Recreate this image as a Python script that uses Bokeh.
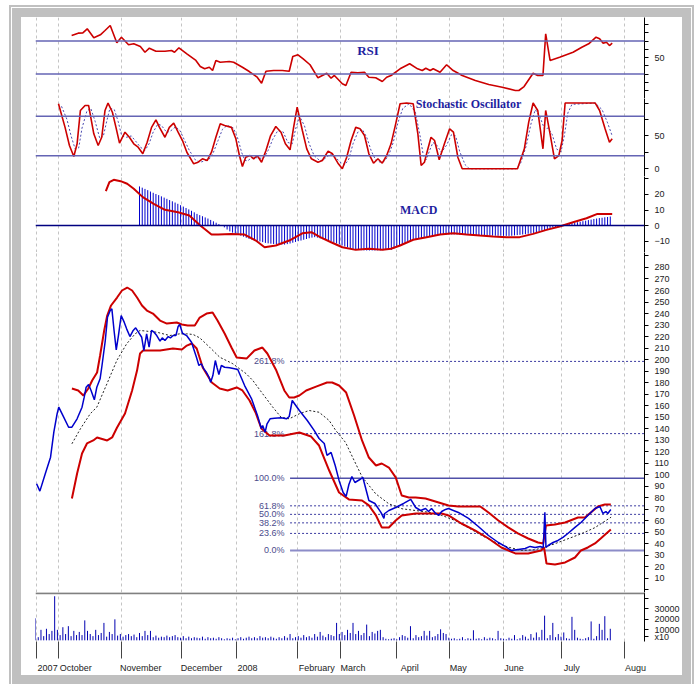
from bokeh.plotting import figure
from bokeh.layouts import column, row
from bokeh.models import FixedTicker, Range1d, Label, Span, Spacer
from bokeh.embed import file_html
from bokeh.resources import INLINE
from bokeh.core.properties import value

# ---------------- data (x = trading-day index) ----------------
month_ticks = [0.5, 8.4, 31.3, 53.5, 73.5, 95.6, 111.3, 132.0, 151.3, 170.9, 192.0, 215.3]
month_labels = ["2007", "October", "November", "December", "2008", "February",
                "March", "April", "May", "June", "July", "Augu"]

rsi_x = [13.2, 15.6, 17.3, 18.9, 21.3, 23.7, 25.4, 27.3, 29.7, 31.4, 34.0, 35.9, 38.3, 40.0, 41.6,
         44.0, 47.3, 49.7, 50.8, 52.4, 55.3, 58.6, 60.2, 61.8, 63.5, 64.7, 65.9, 67.5, 70.8, 72.4,
         75.6, 78.1, 81.0, 82.6, 84.2, 87.0, 90.2, 92.7, 94.0, 95.9, 97.8, 100.3, 103.2, 104.8, 106.4,
         108.0, 109.2, 112.1, 113.4, 115.3, 117.8, 120.2, 121.8, 124.3, 126.7, 128.3, 129.9, 133.2, 136.7, 139.6,
         141.3, 142.6, 144.2, 145.3, 147.8, 150.2, 152.6, 155.9, 160.7, 165.6, 170.5, 175.3, 176.6, 178.5, 181.8,
         183.5, 185.4, 186.4, 187.0, 188.0, 191.5, 196.4, 199.6, 202.1, 204.8, 206.1, 207.4, 208.6, 209.7, 210.7]
rsi_v = [76.7, 79.5, 79.9, 84.8, 73.9, 77.5, 82.7, 88.8, 67.8, 74.6, 65.4, 66.6, 63.3, 56.4, 61.3,
         57.6, 57.6, 58.5, 56.4, 61.8, 54.5, 46.4, 39.1, 36.3, 38.2, 34.2, 46.4, 44.3, 45.2, 44.3,
         38.2, 33.0, 26.1, 18.8, 33.4, 34.2, 34.2, 33.4, 51.2, 53.3, 48.4, 41.2, 25.4, 28.2, 31.0,
         24.9, 28.2, 18.1, 16.1, 32.2, 31.5, 32.2, 26.1, 25.4, 20.9, 26.1, 28.2, 36.3, 42.4, 36.3,
         34.2, 37.0, 34.2, 36.3, 32.2, 41.2, 34.2, 28.2, 22.1, 17.3, 14.0, 10.0, 10.0, 14.8, 31.0,
         28.2, 28.2, 78.7, 66.6, 46.4, 50.4, 56.4, 62.5, 66.6, 74.6, 72.7, 67.3, 68.5, 64.5, 67.3]

stk_x = [8.4, 10.8, 12.4, 14.0, 15.2, 16.4, 18.1, 19.4, 21.3, 22.9, 24.2, 25.4, 26.5, 28.1, 29.4,
         30.7, 32.7, 34.3, 35.9, 37.5, 39.2, 40.8, 42.4, 44.0, 45.3, 47.3, 48.9, 50.5, 52.1, 53.7,
         55.3, 57.8, 59.4, 61.0, 62.7, 64.3, 65.9, 67.5, 69.1, 71.6, 73.2, 74.5, 75.6, 76.8, 78.4,
         79.7, 81.0, 82.6, 84.2, 85.9, 87.8, 89.7, 91.3, 93.0, 94.3, 95.6, 97.5, 99.1, 100.8, 103.2,
         104.8, 106.9, 108.5, 110.5, 112.1, 113.7, 115.3, 117.0, 118.6, 120.2, 121.8, 123.5, 125.1, 126.7, 128.3,
         129.9, 131.6, 133.2, 135.6, 138.0, 139.7, 140.9, 142.1, 143.2, 144.5, 145.8, 147.5, 149.4, 151.3, 152.7,
         154.3, 155.9, 176.1, 178.6, 180.2, 181.8, 183.5, 185.4, 186.4, 188.0, 189.6, 191.2, 192.4, 193.5, 204.5,
         206.1, 208.1, 209.7, 210.7]
stk_v = [98.9, 63.0, 35.4, 18.7, 38.0, 88.7, 96.3, 96.3, 53.2, 35.4, 48.0, 88.7, 100.0, 86.0, 63.0,
         39.0, 55.7, 48.0, 38.0, 32.9, 22.8, 40.5, 63.0, 74.5, 63.0, 48.0, 63.0, 69.4, 55.7, 43.0,
         25.2, 7.6, 10.0, 15.2, 12.6, 25.2, 48.0, 68.4, 65.9, 63.0, 45.6, 20.2, 3.5, 17.6, 20.2,
         15.2, 20.2, 10.0, 27.8, 50.6, 64.3, 55.7, 38.0, 28.9, 63.0, 93.7, 58.3, 30.4, 15.2, 10.0,
         12.6, 26.8, 22.8, 8.5, 0.0, 17.6, 43.0, 63.0, 60.8, 50.6, 22.8, 8.5, 15.2, 8.5, 20.2,
         38.0, 68.4, 98.9, 100.0, 98.9, 53.2, 5.0, 10.0, 27.8, 48.0, 43.0, 13.7, 38.0, 60.8, 55.7,
         17.6, 0.0, 0.0, 30.4, 70.9, 100.0, 88.7, 30.4, 88.7, 53.2, 15.2, 20.2, 43.0, 100.0, 100.0,
         88.7, 60.8, 40.5, 45.6]

std_x = [9.5, 11.5, 13.0, 14.5, 15.8, 17.0, 18.8, 20.2, 21.8, 23.5, 24.8, 26.0, 27.2, 28.8, 30.2,
         31.5, 33.3, 35.0, 36.6, 38.3, 40.0, 41.5, 43.0, 44.7, 46.0, 48.0, 49.5, 51.2, 52.8, 54.5,
         56.2, 58.5, 60.2, 61.8, 63.5, 65.0, 66.7, 68.3, 70.0, 72.3, 74.0, 75.3, 76.5, 77.5, 79.0,
         80.5, 82.0, 83.5, 85.0, 86.7, 88.5, 90.5, 92.2, 93.8, 95.0, 96.5, 98.3, 100.0, 101.8, 104.0,
         105.5, 107.7, 109.3, 111.3, 113.0, 114.5, 116.0, 117.8, 119.4, 121.0, 122.6, 124.3, 126.0, 127.5, 129.0,
         130.7, 132.4, 134.2, 136.5, 138.8, 140.5, 141.7, 142.8, 144.0, 145.2, 146.6, 148.3, 150.2, 152.0, 153.5,
         155.0, 157.0, 158.5, 175.5, 177.2, 179.3, 181.0, 182.6, 184.4, 186.0, 187.2, 188.8, 190.4, 192.0, 193.2,
         194.5, 196.0, 204.5, 207.0, 209.0, 210.7]
std_v = [95, 75, 50, 30, 32, 62, 88, 92, 72, 46, 50, 72, 92, 90, 72,
         50, 48, 50, 42, 33, 28, 38, 56, 68, 66, 55, 58, 64, 58, 43,
         28, 13, 10, 12, 15, 25, 43, 60, 66, 62, 45, 25, 13, 12, 17,
         17, 16, 17, 28, 45, 58, 56, 40, 38, 60, 80, 65, 38, 20, 12,
         15, 22, 19, 10, 6, 15, 38, 56, 60, 48, 28, 13, 10, 12, 20,
         40, 70, 92, 99, 86, 50, 20, 14, 28, 40, 36, 25, 36, 52, 50,
         26, 6, 0, 0, 8, 35, 68, 90, 78, 60, 62, 52, 30, 26, 50,
         85, 98, 100, 90, 70, 50]

macd_x = [25.7, 27.0, 28.6, 31.1, 33.5, 35.9, 39.2, 43.2, 47.3, 52.1, 56.2, 60.2, 64.3, 66.7, 71.6,
          76.4, 80.5, 83.7, 87.8, 92.7, 97.5, 100.8, 104.0, 108.0, 112.1, 117.0, 121.8, 126.7, 129.9, 133.2,
          138.0, 142.9, 147.8, 152.6, 157.5, 162.4, 167.2, 172.1, 176.9, 181.8, 186.7, 191.5, 196.4, 201.3, 205.3,
          210.7]
macd_v = [22.1, 27.9, 29.5, 28.6, 26.9, 23.7, 18.3, 14.0, 10.1, 8.6, 6.5, 0.0, -5.8, -5.8, -5.4,
          -5.8, -9.7, -14.0, -12.9, -9.7, -5.0, -4.3, -7.5, -10.8, -14.0, -15.7, -15.0, -15.7, -15.0, -12.9,
          -9.2, -7.5, -5.8, -5.0, -5.8, -6.5, -7.1, -7.5, -7.5, -5.4, -2.8, -0.6, 2.1, 4.7, 7.5,
          7.5]

hist_first_day = 38
macd_hist = [25.2, 24.4, 23.6, 22.8, 21.9, 21.1, 20.3, 19.6, 18.8, 18.0,
             17.2, 16.4, 15.6, 14.8, 14.0, 13.1, 12.2, 11.3, 10.4, 9.5,
             8.5, 7.5, 6.7, 6.0, 5.2, 4.5, 3.6, 2.7, 1.8, 0.9,
             0.2, -1.2, -2.6, -3.8, -4.6, -5.2, -5.8, -6.5, -7.2, -7.9,
             -8.6, -9.0, -9.5, -9.9, -10.3, -10.7, -11.2, -11.5, -11.7, -11.9,
             -12.0, -12.2, -12.3, -12.3, -12.0, -11.6, -11.1, -10.6, -10.1, -9.7,
             -9.2, -8.7, -8.2, -7.8, -7.5, -7.8, -8.3, -8.8, -9.3, -9.7,
             -10.3, -11.0, -11.6, -12.2, -12.9, -13.5, -14.1, -14.7, -15.2, -15.7,
             -15.8, -15.9, -16.0, -16.1, -16.1, -16.1, -16.1, -16.0, -16.0, -15.9,
             -15.8, -15.8, -15.7, -14.8, -13.8, -12.9, -12.0, -11.2, -10.4, -9.7,
             -9.2, -8.8, -8.4, -8.1, -7.8, -7.5, -7.2, -6.9, -6.6, -6.3,
             -6.0, -5.8, -5.8, -5.7, -5.7, -5.7, -5.8, -5.8, -5.8, -5.8,
             -5.9, -6.0, -6.1, -6.2, -6.3, -6.4, -6.4, -6.5, -6.5, -6.5,
             -6.6, -6.6, -6.6, -6.7, -6.7, -6.7, -6.6, -6.4, -6.2, -6.0,
             -5.8, -5.6, -5.3, -5.1, -4.8, -4.3, -3.8, -3.3, -2.9, -2.4,
             -1.9, -1.4, -0.9, -0.4, 0.1, 0.5, 0.9, 1.2, 1.5, 1.8,
             2.1, 2.4, 2.8, 3.1, 3.5, 3.8, 4.2, 4.5, 4.8, 5.0,
             5.3, 5.5, 5.8]

close_x = [0.4, 1.6, 3.6, 5.5, 6.7, 7.9, 8.5, 10.3, 12.1, 13.3, 15.2, 17.0, 17.8, 18.5, 19.4, 20.3,
           21.5, 22.4, 23.6, 24.3, 25.5, 26.3, 27.3, 27.9, 28.7, 29.5, 30.3, 31.3, 32.4, 33.3, 34.5,
           35.7, 36.6, 37.6, 38.8, 39.6, 40.6, 41.5, 42.4, 43.3, 44.3, 45.5, 46.3, 47.3, 48.5, 49.3,
           50.3, 51.3, 52.1, 52.7, 53.7, 55.2, 57.0, 58.8, 59.7, 60.6, 61.5, 62.4, 63.4, 64.0, 64.8,
           65.7, 66.3, 67.0, 67.9, 69.1, 70.9, 72.7, 73.9, 76.4, 78.9, 81.1, 82.5, 83.0, 83.9, 84.6,
           85.7, 87.3, 89.7, 91.7, 92.7, 93.8, 96.4, 99.3, 101.8, 103.6, 105.5, 106.5, 108.0, 109.5,
           110.9, 112.4, 113.5, 114.5, 115.6, 116.7, 118.5, 119.6, 121.8, 124.0, 126.2, 127.3, 127.6,
           129.1, 131.6, 134.5, 137.1, 138.9, 140.7, 142.5, 143.6, 144.7, 146.2, 147.3, 148.4, 149.8,
           150.9, 154.5, 158.2, 161.8, 165.5, 169.1, 171.6, 173.8, 176.4, 178.9, 180.7, 182.5, 184.4,
           185.5, 186.1, 186.5, 187.3, 189.1, 190.9, 192.7, 194.5, 197.1, 199.3, 201.8, 204.4, 206.2,
           207.3, 208.4, 209.1, 210.2]
close_v = [92.2, 85.8, 101.1, 115.3, 137.0, 153.0, 158.7, 150.0, 141.3, 141.3, 148.6, 158.7, 167.4, 176.0, 178.4, 173.2,
           165.1, 176.0, 183.3, 194.9, 216.6, 236.8, 242.6, 244.1, 225.3, 208.5, 220.9, 238.3, 232.5, 226.7, 220.0,
           225.3, 227.6, 223.8, 219.4, 207.9, 222.4, 210.8, 225.3, 223.8, 220.9, 216.0, 218.9, 216.6, 220.0, 218.9,
           220.9, 220.9, 228.7, 230.5, 222.9, 220.9, 215.1, 202.1, 194.9, 196.4, 192.0, 189.1, 184.7, 180.4, 186.2,
           199.2, 193.4, 187.1, 194.9, 193.4, 192.9, 192.0, 191.4, 177.5, 166.2, 151.5, 140.2, 142.8, 137.0, 144.3,
           148.6, 149.1, 149.5, 148.6, 150.6, 164.5, 155.8, 147.1, 138.5, 131.5, 127.2, 116.8, 119.4, 108.1,
           95.1, 84.6, 81.2, 91.6, 98.5, 93.3, 95.9, 97.7, 77.7, 75.1, 67.3, 62.1, 66.4,
           69.0, 71.6, 75.1, 78.6, 71.6, 69.0, 70.7, 68.1, 70.7, 66.4, 64.7, 68.1, 69.9,
           70.7, 67.3, 62.1, 55.1, 47.3, 41.2, 37.8, 34.3, 35.2, 36.0, 37.8, 36.9, 37.8,
           36.9, 67.5, 36.9, 38.6, 41.2, 43.0, 45.6, 49.0, 54.3, 58.6, 64.7, 70.7, 72.5,
           66.4, 68.1, 66.4, 69.9]

ub_x = [13.3, 15.6, 17.5, 19.3, 20.7, 22.5, 23.6, 25.1, 26.2, 27.6, 29.8, 31.6, 33.5, 35.3, 37.1, 38.9,
        40.7, 42.9, 45.5, 48.0, 51.6, 53.5, 55.6, 58.2, 60.0, 62.5, 64.7, 66.5, 69.1, 71.6, 73.5, 77.1,
        80.0, 82.9, 84.7, 88.0, 90.9, 92.7, 94.5, 96.4, 98.9, 102.5, 106.5, 108.4, 110.9, 113.5, 116.4,
        119.3, 121.8, 124.4, 126.5, 129.1, 131.6, 133.8, 136.4, 138.9, 142.5, 147.3, 150.9, 154.5, 159.3,
        162.5, 165.5, 169.1, 172.7, 176.4, 180.0, 183.6, 185.5, 186.5, 189.8, 193.5, 198.2, 200.7, 202.9,
        205.5, 208.0, 210.2]
ub_v = [174.9, 173.2, 168.8, 174.9, 181.9, 188.8, 203.6, 225.3, 238.3, 247.0, 253.9, 260.0, 262.6, 260.0, 253.9, 247.0,
        242.6, 240.0, 233.9, 231.3, 232.2, 230.5, 229.6, 229.6, 236.5, 240.0, 240.9, 233.9, 222.7, 210.5, 201.8, 200.9,
        207.9, 210.5, 205.3, 190.5, 173.2, 167.1, 167.1, 168.8, 173.2, 176.6, 180.1, 180.1, 177.5, 171.4, 151.5,
        129.8, 115.0, 108.1, 109.8, 106.3, 97.7, 82.0, 80.3, 80.3, 79.4, 76.0, 73.4, 72.5, 72.5,
        72.5, 67.3, 60.3, 54.3, 49.0, 44.7, 41.2, 40.4, 56.0, 56.9, 58.6, 62.9, 62.9, 67.3,
        72.5, 74.2, 74.2]

lb_x = [13.3, 15.2, 17.0, 18.8, 21.1, 22.5, 26.2, 28.0, 29.8, 32.7, 35.3, 37.1, 38.2, 39.3, 41.8, 45.5,
        50.2, 53.5, 55.3, 57.1, 58.9, 61.1, 64.4, 67.3, 70.2, 73.5, 75.6, 78.2, 80.4, 82.5, 85.5, 90.9,
        96.4, 100.7, 103.6, 107.3, 110.9, 114.5, 119.3, 121.8, 124.4, 126.5, 129.1, 131.6, 133.8, 138.9,
        143.6, 148.4, 150.9, 155.6, 160.7, 165.5, 170.2, 175.3, 180.0, 184.7, 185.8, 186.7, 189.8, 193.5,
        197.1, 199.3, 201.8, 204.4, 206.5, 210.2]
lb_v = [79.4, 101.1, 118.5, 127.2, 129.8, 132.4, 129.8, 132.4, 141.1, 153.2, 173.2, 190.5, 205.3, 207.9, 207.9, 207.9,
        209.6, 208.8, 212.2, 214.0, 209.6, 193.1, 180.1, 174.9, 173.2, 175.8, 173.2, 164.5, 154.1, 140.2, 134.1, 134.1,
        136.7, 133.2, 125.4, 103.7, 84.6, 78.6, 77.7, 73.4, 64.7, 54.3, 54.3, 60.3, 64.7, 66.4,
        66.4, 66.4, 64.7, 57.7, 51.6, 44.7, 36.9, 31.7, 31.7, 34.3, 36.9, 23.0, 22.1, 23.9,
        28.2, 34.3, 36.9, 40.4, 44.7, 52.5]

ma_x = [13.3, 16.4, 20.0, 22.4, 26.1, 29.7, 33.3, 36.4, 38.2, 40.6, 44.3, 49.1, 52.7, 55.2, 57.6, 60.0,
        63.6, 67.3, 72.1, 77.0, 79.4, 83.0, 86.7, 89.7, 92.7, 96.4, 100.0, 103.6, 107.3, 109.7, 113.3,
        116.5, 119.4, 124.3, 129.1, 133.9, 138.8, 143.6, 148.5, 153.3, 158.2, 163.0, 167.9, 172.7, 177.6,
        182.4, 186.1, 189.7, 194.5, 199.4, 204.3, 210.3]
ma_v = [126.9, 139.9, 153.0, 158.7, 179.0, 199.2, 213.7, 222.4, 225.3, 224.7, 223.8, 220.9, 222.4, 222.4, 221.8, 218.9,
        210.8, 202.1, 196.4, 187.7, 181.9, 170.3, 158.7, 150.0, 148.6, 153.0, 155.8, 154.3, 147.1, 138.5, 128.0,
        112.0, 97.9, 83.5, 74.8, 70.5, 69.0, 67.5, 64.7, 60.3, 54.0, 47.3, 41.5, 37.2, 34.3,
        34.9, 37.2, 40.1, 44.4, 48.8, 54.0, 63.2]

fib_low = 34.3
fib_high = 97.0
fib_ratios = [0.0, 0.236, 0.382, 0.5, 0.618, 1.0, 1.618, 2.618]
fib_labels = ["0.0%", "23.6%", "38.2%", "50.0%", "61.8%", "100.0%", "161.8%", "261.8%"]
fib_label_day = 91.0
fib_line_day = 93.0

volume = [21000, 3000, 10000, 4000, 11000, 6000, 9000, 42000, 10000, 5000,
          12500, 6000, 13500, 4000, 9000, 5000, 8000, 5000, 19000, 9000,
          6000, 4000, 10000, 5000, 7000, 16600, 3500, 8000, 6000, 20000,
          4500, 6000, 3500, 5000, 6000, 4000, 5500, 3000, 7000, 4000,
          9000, 5000, 9000, 3000, 4500, 2500, 3500, 3000, 4500, 3000,
          4000, 5000, 3000, 2500, 4000, 2000, 3500, 2000, 3000, 2500,
          2000, 3500, 1500, 3000, 2000, 2500, 1500, 3000, 2000, 1000,
          2000, 1500, 2500, 1000, 2000, 3000, 1500, 2500, 3500, 2000,
          3000, 2000, 4000, 2500, 3000, 2000, 3500, 2500, 1500, 3000,
          2000, 4000, 2500, 6000, 2000, 3000, 4000, 2500, 5000, 3000,
          4000, 2500, 6000, 3500, 8000, 4500, 3000, 6000, 5000, 4000,
          16600, 6000, 8000, 5000, 10000, 7000, 16600, 6000, 9000, 5000,
          7000, 15000, 4000, 8000, 6500, 9000, 10000, 3000, 1500, 1000,
          1500, 2000, 1000, 3000, 5000, 4000, 2500, 13500, 2000, 5000,
          3000, 4000, 9000, 4500, 9000, 3000, 4000, 6000, 10500, 7000,
          6000, 2500, 1500, 2000, 1000, 1500, 3000, 1000, 2000, 1500,
          9600, 1500, 2000, 1000, 3000, 1500, 2500, 2000, 1000, 9000,
          2000, 1500, 1000, 2500, 1500, 5000, 1000, 2000, 5000, 3500,
          1500, 6000, 2500, 7500, 3000, 10000, 23500, 2000, 5000, 16600,
          3000, 6000, 3500, 7500, 2000, 1500, 22400, 10000, 2500, 1500,
          1000, 2000, 3000, 18000, 1500, 4000, 15700, 10000, 23000, 2000,
          11000]
vol_ticks = [10000, 20000, 30000]
vol_unit_tick = 3500
vol_unit_label = "x10"

# axis ranges
x_end = 222.5
rsi_range = (0.3, 98.5)
stoch_range = (-11.7, 106.9)
macd_range = (-17.4, 31.6)
price_range = (-2.2, 293.0)
vol_range = (-1111, 45556)

# ---------------- styling ----------------
FONT = "Liberation Sans"
TITLE_FONT = "Liberation Serif"
RED = "#cc0000"
BLUE = "#0000cc"
LEVEL = "#6464b4"
TITLE_C = "#1f1fa0"
PX_PER_DAY = 612 / x_end
CHAR_W = 4.4  # approx. px per character of the month labels

xr = Range1d(0, x_end)


def panel(h, yrange, major, minor, bottom=False):
    p = figure(width=661, height=h, x_range=xr, y_range=Range1d(*yrange),
               output_backend="svg", toolbar_location=None,
               x_axis_location="below" if bottom else None, y_axis_location="right",
               min_border_left=14, min_border_right=35, min_border_top=0,
               min_border_bottom=20 if bottom else 0)
    p.outline_line_color = None
    p.background_fill_color = "white"
    p.border_fill_color = "white"
    p.ygrid.visible = False
    p.xgrid.ticker = FixedTicker(ticks=month_ticks)
    p.xgrid.grid_line_color = "#c4c4c4"
    p.xgrid.grid_line_dash = "3 3"
    p.xgrid.grid_line_width = 1
    ya = p.yaxis[0]
    ya.ticker = FixedTicker(ticks=major, minor_ticks=minor)
    ya.axis_line_color = "black"
    ya.major_tick_line_color = "black"
    ya.minor_tick_line_color = "black"
    ya.major_tick_out = 4
    ya.major_tick_in = 0
    ya.minor_tick_out = 4
    ya.minor_tick_in = 0
    ya.major_label_standoff = 6
    ya.major_label_text_font = FONT
    ya.major_label_text_font_size = "9px"
    ya.major_label_text_color = "#222222"
    return p


def title(p, x, y, text, size="12px"):
    p.add_layout(Label(x=x, y=y, text=text, text_align="center", text_baseline="middle",
                       text_font=TITLE_FONT, text_font_style="bold", text_font_size=size,
                       text_color=TITLE_C))


# RSI
p_rsi = panel(81, rsi_range, [50], [10, 20, 30, 40, 60, 70, 80, 90])
for lv in (70, 30):
    p_rsi.add_layout(Span(location=lv, dimension="width", line_color=LEVEL, line_width=1.5))
p_rsi.line(rsi_x, rsi_v, line_color=RED, line_width=1.6)
title(p_rsi, 121.5, 58.5, "RSI", "13px")

# Stochastic
p_sto = panel(78, stoch_range, [0, 50], [25, 75, 100])
for lv in (80, 20):
    p_sto.add_layout(Span(location=lv, dimension="width", line_color=LEVEL, line_width=1.5))
p_sto.line(std_x, std_v, line_color="#4a4ab0", line_width=1, line_dash="2 2")
p_sto.line(stk_x, stk_v, line_color=RED, line_width=1.6)
title(p_sto, 158.2, 97.8, "Stochastic Oscillator")

# MACD
p_macd = panel(76, macd_range, [-10, 0, 10, 20], [30])
hist_x = list(range(hist_first_day, hist_first_day + len(macd_hist)))
p_macd.segment(x0=hist_x, y0=0, x1=hist_x, y1=macd_hist, line_color=BLUE, line_width=1)
p_macd.add_layout(Span(location=0, dimension="width", line_color="#000080", line_width=1.5))
p_macd.line(macd_x, macd_v, line_color=RED, line_width=2)
title(p_macd, 140.0, 9.7, "MACD")

# Price
p_px = panel(340, price_range, list(range(10, 290, 10)), [0, 290])
fib_levels = [fib_low + r * (fib_high - fib_low) for r in fib_ratios]
dotted = [lv for lv, r in zip(fib_levels, fib_ratios) if r not in (0.0, 1.0)]
p_px.ray(x=[fib_line_day] * len(dotted), y=dotted, length=0, angle=0,
         line_color="#3a3aa0", line_width=1, line_dash="2 2")
p_px.ray(x=[fib_line_day], y=[fib_levels[5]], length=0, angle=0, line_color="#5050a8", line_width=1.5)
p_px.ray(x=[fib_line_day], y=[fib_levels[0]], length=0, angle=0, line_color="#8c8cc8", line_width=2)
p_px.text(x=[fib_label_day] * len(fib_levels), y=fib_levels, text=fib_labels,
          text_align="right", text_baseline="middle", text_font=value(FONT),
          text_font_size="9px", text_color="#4b4b8b")
p_px.line(ma_x, ma_v, line_color="#222222", line_width=1, line_dash="2 2")
p_px.line(ub_x, ub_v, line_color=RED, line_width=2)
p_px.line(lb_x, lb_v, line_color=RED, line_width=2)
p_px.line(close_x, close_v, line_color=BLUE, line_width=1.5)

# Volume
p_vol = panel(83, vol_range, [vol_unit_tick] + vol_ticks, [40000], bottom=True)
p_vol.yaxis[0].major_label_overrides = {vol_unit_tick: vol_unit_label}
vol_x = list(range(len(volume)))
p_vol.segment(x0=vol_x, y0=0, x1=vol_x, y1=volume, line_color="#0000b0", line_width=1)
p_vol.add_layout(Span(location=44800, dimension="width", line_color="#808080", line_width=2))

# month axis: tick marks at month starts (minor ticks), names just to the right (major ticks)
label_pos = [round(t + (len(lab) * CHAR_W / 2 + 2) / PX_PER_DAY, 2)
             for t, lab in zip(month_ticks, month_labels)]
xa = p_vol.xaxis[0]
xa.ticker = FixedTicker(ticks=label_pos, minor_ticks=month_ticks)
xa.major_label_overrides = {t: lab for t, lab in zip(label_pos, month_labels)}
xa.axis_line_color = None
xa.major_tick_line_color = None
xa.major_tick_out = 0
xa.major_tick_in = 0
xa.minor_tick_out = 17
xa.minor_tick_in = 0
xa.minor_tick_line_color = "#444444"
xa.major_label_standoff = 4
xa.major_label_text_font = FONT
xa.major_label_text_font_size = "9px"
xa.major_label_text_color = "#222222"

# grey double frame around the chart; spacers give the white margin outside it
chart = column(p_rsi, p_sto, p_macd, p_px, p_vol, spacing=0,
               styles={"box-shadow": "0 0 0 9px #c0c0c0, 0 0 0 10px #ffffff, 0 0 0 12px #c0c0c0",
                       "background-color": "white"})
layout = row(Spacer(width=21, height=684),
             column(Spacer(width=661, height=17), chart, Spacer(width=661, height=9), spacing=0),
             spacing=0)

open("out.html", "w").write(file_html(layout, INLINE))
